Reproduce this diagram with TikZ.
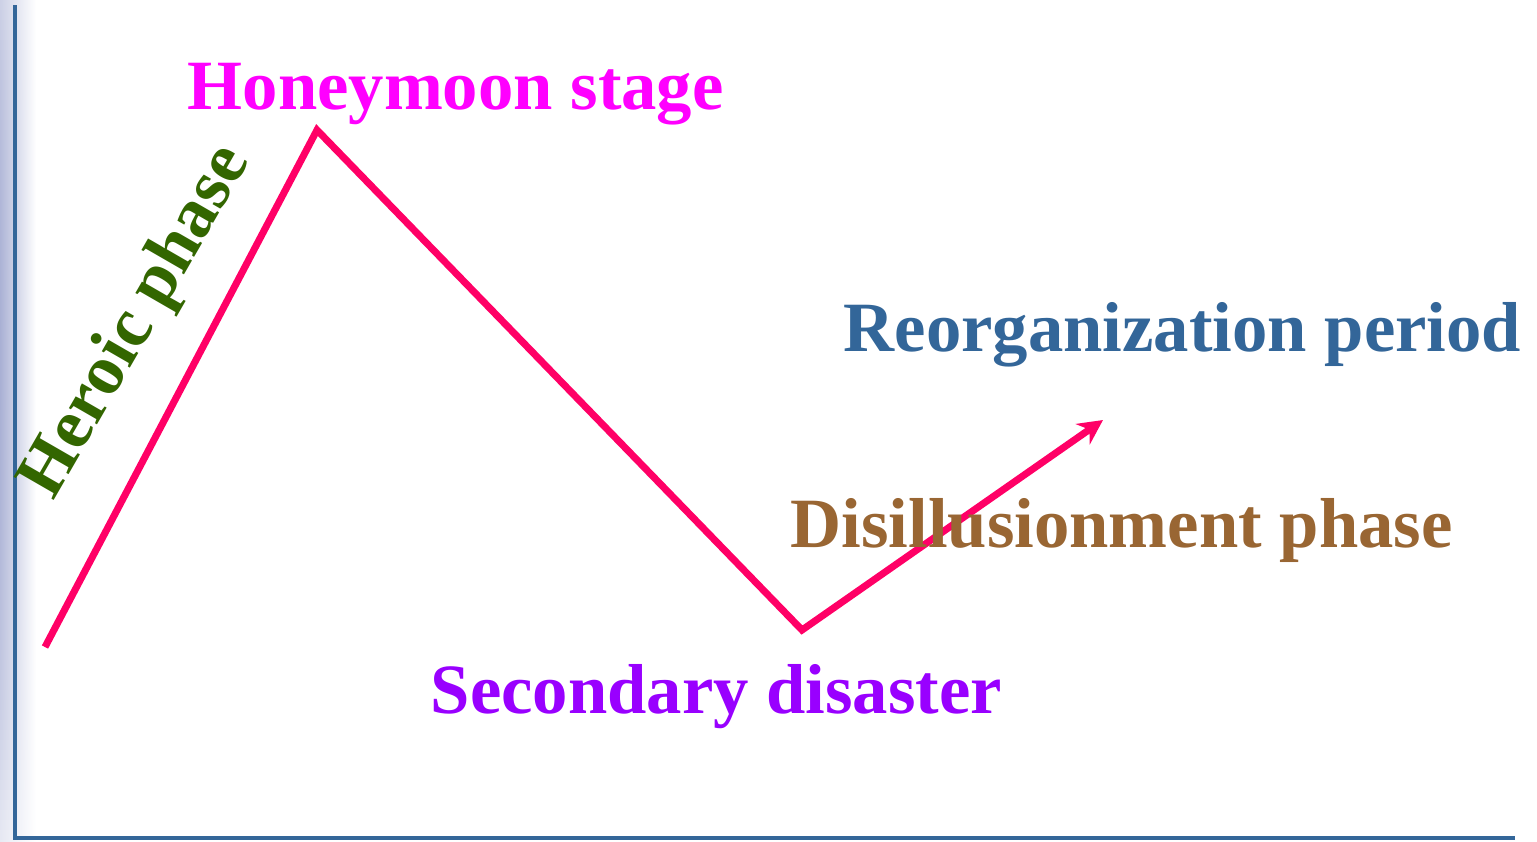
\documentclass[tikz,border=0pt]{standalone}
\usepackage{fontspec}
\setmainfont{Liberation Serif}
\usetikzlibrary{arrows.meta}
\definecolor{curvepink}{HTML}{FF0066}
\definecolor{axisblue}{HTML}{336699}
\definecolor{honeycol}{HTML}{FF00FF}
\definecolor{reorgcol}{HTML}{336699}
\definecolor{disillcol}{HTML}{996633}
\definecolor{secondcol}{HTML}{9900FF}
\definecolor{heroiccol}{HTML}{336600}
\definecolor{lav}{HTML}{A9B0D4}
\tikzset{
  phaselabel/.style={anchor=base west, inner sep=0pt, font=\bfseries\fontsize{20.1pt}{24pt}\selectfont},
  curveline/.style={draw=curvepink, line width=2pt, line join=miter, -{Stealth[length=7pt,width=7pt]}},
  axisline/.style={draw=axisblue, line width=1.3pt}
}
\begin{document}
\begin{tikzpicture}[x=0.01cm,y=-0.01cm]
\useasboundingbox (0,0) rectangle (1537,841);
\fill[white] (0,0) rectangle (1537,841);
% soft shadow strip on the left edge
\foreach \i in {0,...,84} {
  \pgfmathsetmacro{\yy}{\i*10}
  \pgfmathsetmacro{\pp}{max(10,100*(1-0.8*((\yy-360)/500)^2))}
  \shade[left color=lav!\pp!white, right color=white] (0,\yy) rectangle (36,\yy+11);
}
% axes
\coordinate (top) at (15,5);
\coordinate (origin) at (15,838);
\coordinate (xend) at (1515,838);
\draw[axisline] (top) -- (origin) -- (xend);
% curve
\coordinate (s) at (45,647);
\coordinate (p) at (317,130);
\coordinate (v) at (802,630);
\coordinate (e) at (1103,420);
\draw[curveline] (s) -- (p) -- (v) -- (e);
% labels
\node[phaselabel, text=honeycol] (honey) at (187,109) {Honeymoon stage};
\node[phaselabel, text=reorgcol] (reorg) at (843,351) {Reorganization period};
\node[phaselabel, text=disillcol] (disill) at (790,547) {Disillusionment phase};
\node[phaselabel, text=secondcol] (second) at (430,713) {Secondary disaster};
\node[phaselabel, text=heroiccol, rotate=60] (heroic) at (53,502) {Heroic phase};
\end{tikzpicture}
\end{document}
